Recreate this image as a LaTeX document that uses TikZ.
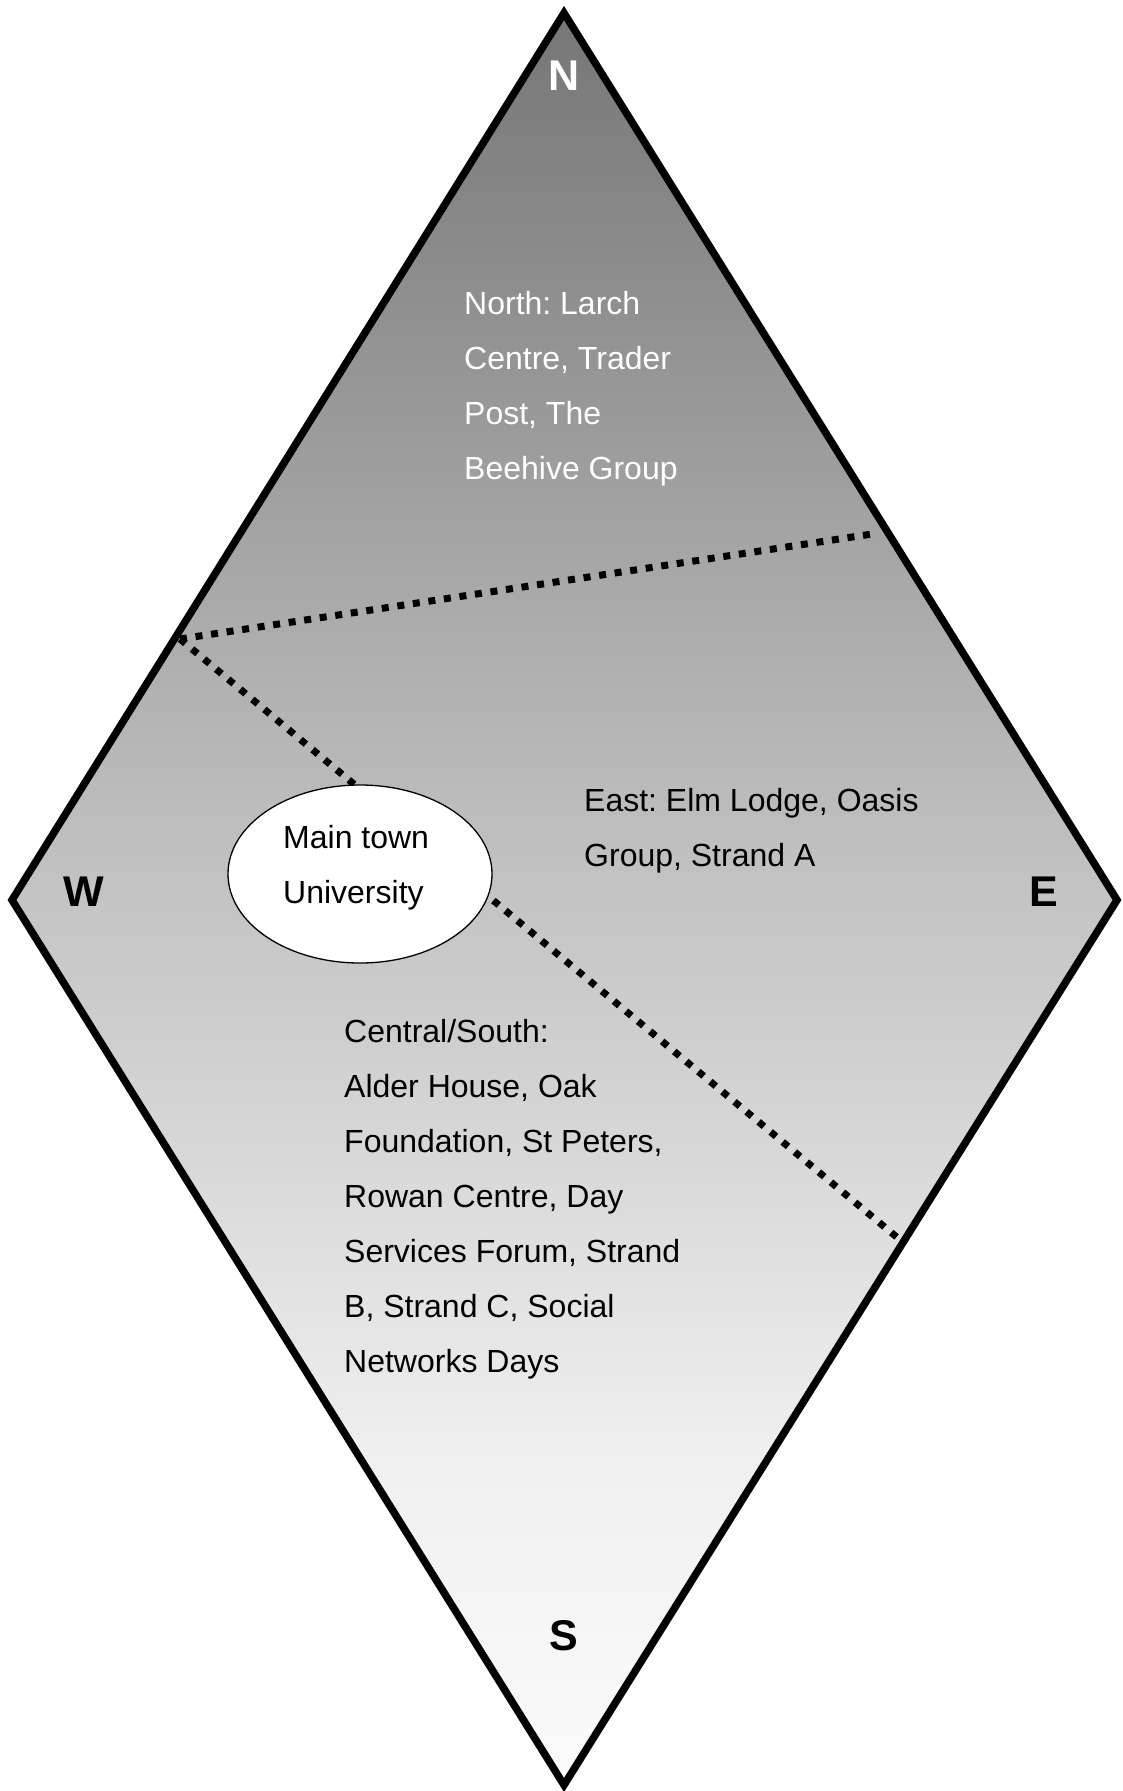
\documentclass[tikz,border=0pt]{standalone}
\usepackage{fontspec}
\setmainfont{Liberation Sans}
\frenchspacing
\usetikzlibrary{shapes.geometric}
\definecolor{gA}{RGB}{118,118,118}
\definecolor{gB}{RGB}{196,196,196}
\definecolor{gC}{RGB}{240,240,240}
\definecolor{gD}{RGB}{251,251,251}
\pgfdeclareverticalshading{diamondshade}{100bp}{color(0bp)=(gD); color(25bp)=(gD); color(34bp)=(gC); color(50bp)=(gB); color(75bp)=(gA); color(100bp)=(gA)}
\tikzset{
  compass/.style={font={\fontsize{43}{43}\selectfont\bfseries}, inner sep=0pt, anchor=center},
  zonetext/.style={font={\fontsize{32}{55}\selectfont}, align=left, inner sep=0pt, anchor=base west},
  dotline/.style={line width=7pt, dash pattern=on 7pt off 8.7pt, line cap=butt},
  uni/.style={ellipse, draw, line width=1.3pt, fill=white, minimum width=264pt, minimum height=178pt, inner sep=0pt}
}
\begin{document}
\begin{tikzpicture}[x=1pt,y=-1pt]
\useasboundingbox (0,0) rectangle (1122,1791);
\coordinate (top) at (564,13);
\coordinate (right) at (1117,900);
\coordinate (bottom) at (564,1785);
\coordinate (left) at (12,900);
\shade[shading=diamondshade] (top) -- (right) -- (bottom) -- (left) -- cycle;
\draw[line width=7.5pt, line join=miter] (top) -- (right) -- (bottom) -- (left) -- cycle;
% dividers
\coordinate (wcut) at (180,639);
\coordinate (necut) at (872,534);
\coordinate (secut) at (899,1239);
\draw[dotline] (wcut) -- (necut);
\draw[dotline] (wcut) -- (secut);
% university
\node[uni] (uni) at (360,874) {};
\node[zonetext] (unitext) at (283,903) {Main town\\University};
% compass letters
\node[compass, text=white] (N) at (564,76) {N};
\node[compass] (W) at (84,892) {W};
\node[compass] (E) at (1044,892) {E};
\node[compass] (S) at (564,1636) {S};
% zone texts
\node[zonetext, text=white] (north) at (464,479) {North: Larch\\Centre, Trader\\Post, The\\Beehive Group};
\node[zonetext] (east) at (584,866) {East: Elm Lodge, Oasis\\Group, Strand A};
\node[zonetext] (central) at (344,1372) {Central/South:\\Alder House, Oak\\Foundation, St Peters,\\Rowan Centre, Day\\Services Forum, Strand\\B, Strand C, Social\\Networks Days};
\end{tikzpicture}
\end{document}
